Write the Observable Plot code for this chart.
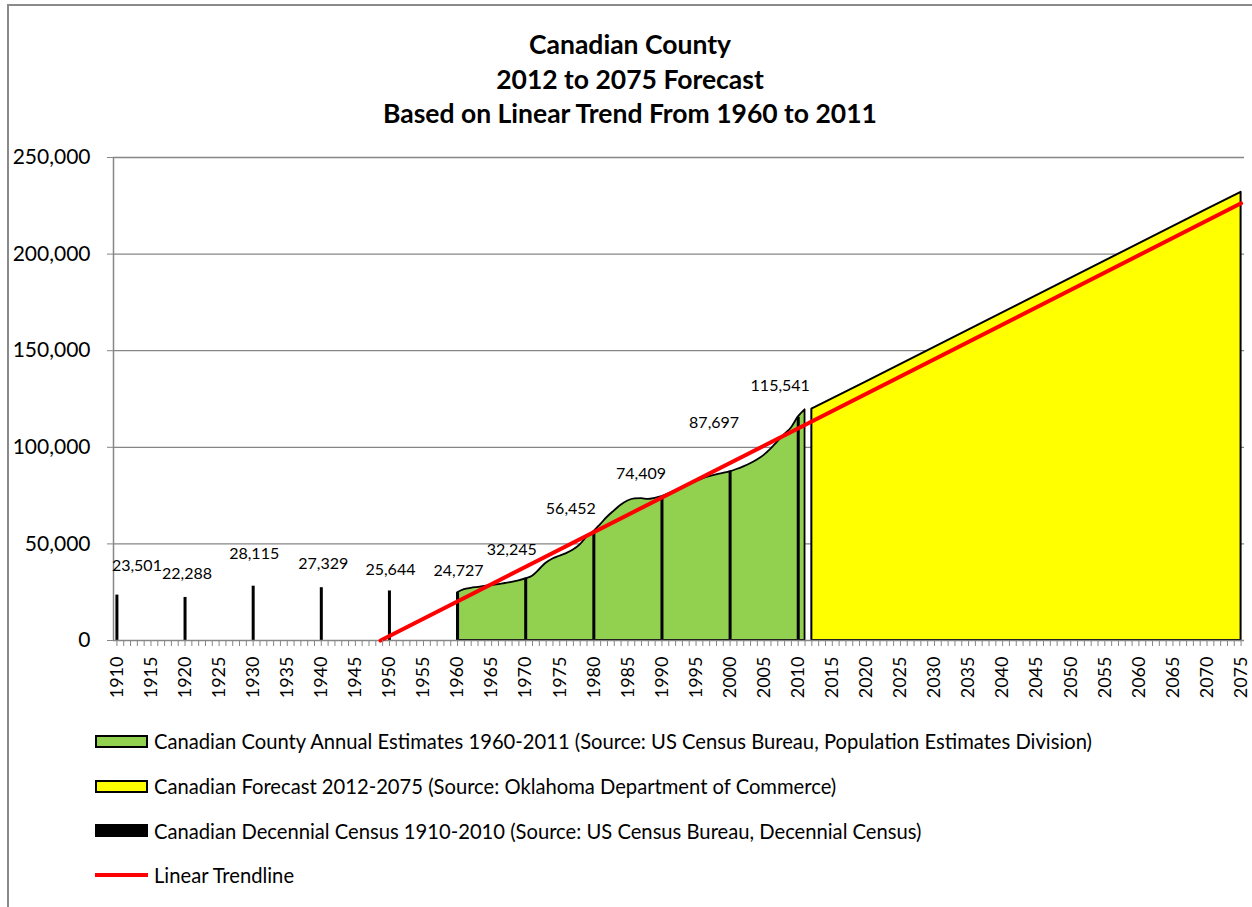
<!DOCTYPE html>
<html>
<head>
<meta charset="utf-8">
<script src="https://cdn.jsdelivr.net/npm/d3@7"></script>
<script src="https://cdn.jsdelivr.net/npm/@observablehq/plot@0.6"></script>
<style>
  html, body { margin: 0; padding: 0; background: #fff; }
  #wrap { position: relative; width: 1252px; height: 907px; overflow: hidden; font-family: Lato, "Open Sans", sans-serif; color: #000; }
  #frame { position: absolute; left: 7px; top: 4px; width: 1300px; height: 1000px; border-left: 2px solid #8a8a8a; border-top: 2px solid #8a8a8a; }
  #title { position: absolute; left: 0; top: 27px; width: 1260px; text-align: center; font-weight: bold; font-size: 26.5px; line-height: 34.5px; }
  #chart { position: absolute; left: 0; top: 130px; }
  #legend { position: absolute; left: 95px; top: 719px; font-size: 20.2px; }
  .row { display: flex; align-items: center; height: 44.7px; }
  .sw { width: 53px; height: 13px; box-sizing: border-box; margin-right: 6px; }
  .line { width: 53px; height: 4px; background: #ff0000; margin-right: 6px; }
</style>
</head>
<body>
<div id="wrap">
  <div id="frame"></div>
  <div id="title">Canadian County<br>2012 to 2075 Forecast<br>Based on Linear Trend From 1960 to 2011</div>
  <div id="chart"></div>
  <div id="legend"></div>
</div>
<script>
// ---- data ----
const censusYears = [1910, 1920, 1930, 1940, 1950, 1960, 1970, 1980, 1990, 2000, 2010];
const censusValues = [23501, 22288, 28115, 27329, 25644, 24727, 32245, 56452, 74409, 87697, 115541];

const estimateYears = [1960,1961,1962,1963,1964,1965,1966,1967,1968,1969,
  1970,1971,1972,1973,1974,1975,1976,1977,1978,1979,
  1980,1981,1982,1983,1984,1985,1986,1987,1988,1989,
  1990,1991,1992,1993,1994,1995,1996,1997,1998,1999,
  2000,2001,2002,2003,2004,2005,2006,2007,2008,2009,2010,2011];
const estimateValues = [24727,26300,27000,27500,28000,28400,28900,29500,30100,30900,
  31900,33300,36500,40000,42200,43600,45000,46800,49500,53500,
  56300,60000,63800,67000,70000,72200,73300,73400,73000,73600,
  74500,75900,77500,79200,80800,82300,83700,84800,85700,86500,
  87300,88500,89900,91500,93400,95800,99000,102800,106500,110000,115600,119400];

const forecastYears = [2012, 2020, 2030, 2040, 2050, 2060, 2070, 2075];
const forecastValues = [119800, 133900, 151700, 169600, 187400, 205300, 223100, 232000];

const trendYears = [1948.7, 2075];
const trendValues = [0, 226300];

const yTicks = [0, 50000, 100000, 150000, 200000, 250000];
const xTickYears = d3.range(1910, 2076);

// label nudges (pixels): [dx, dy from bar top]
const labelNudge = [[20,-29],[2,-24],[1,-32],[2,-24],[1,-21],[1,-22],[-14,-28],[-23,-23],[-21,-23],[-16,-48],[-18,-31]];

const legendItems = [
  {kind: "swatch", fill: "#92d050", label: "Canadian County Annual Estimates 1960-2011 (Source: US Census Bureau, Population Estimates Division)"},
  {kind: "swatch", fill: "#ffff00", label: "Canadian Forecast 2012-2075 (Source: Oklahoma Department of Commerce)"},
  {kind: "solid", fill: "#000000", label: "Canadian Decennial Census 1910-2010 (Source: US Census Bureau, Decennial Census)"},
  {kind: "line", fill: "#ff0000", label: "Linear Trendline"}
];

// ---- tables ----
const census = censusYears.map((y, i) => ({year: y, value: censusValues[i]}));
const estimates = estimateYears.map((y, i) => ({year: y, value: estimateValues[i]}));
const forecast = forecastYears.map((y, i) => ({year: y, value: forecastValues[i]}));
const trend = trendYears.map((y, i) => ({year: y, value: trendValues[i]}));

const gray = "#868686";
const fmt = d3.format(",");

const labelMarks = census.map((d, i) => Plot.text([d], {
  x: "year", y: "value", text: dd => fmt(dd.value),
  dx: labelNudge[i][0], dy: labelNudge[i][1], fontSize: 16, fill: "black"
}));

const chart = Plot.plot({
  width: 1252,
  height: 580,
  marginTop: 27,
  marginBottom: 70,
  marginLeft: 113,
  marginRight: 8,
  style: {fontFamily: "Lato, 'Open Sans', sans-serif", background: "transparent", overflow: "visible"},
  x: {domain: [1909.5, 2075.5], axis: null, label: null},
  y: {domain: [0, 250000], axis: null, label: null},
  marks: [
    Plot.ruleY(yTicks.filter(v => v > 0), {stroke: gray, strokeWidth: 1.3}),
    Plot.areaY(forecast, {x: "year", y: "value", fill: "#ffff00", stroke: "black", strokeWidth: 2}),
    Plot.areaY(estimates, {x: "year", y: "value", fill: "#92d050", stroke: "black", strokeWidth: 1.8, curve: "monotone-x"}),
    Plot.ruleX(census, {x: "year", y1: 0, y2: "value", stroke: "black", strokeWidth: 3}),
    Plot.ruleY([0], {stroke: gray, strokeWidth: 1.5}),
    Plot.ruleX([1909.5], {stroke: gray, strokeWidth: 1.5}),
    Plot.line(trend, {x: "year", y: "value", stroke: "#ff0000", strokeWidth: 4}),
    Plot.axisY(yTicks, {anchor: "left", label: null, tickSize: 6, tickPadding: 17, tickFormat: d => fmt(d), fontSize: 21, stroke: gray, fill: "black"}),
    Plot.axisX(xTickYears, {anchor: "bottom", label: null, tickSize: 6, tickPadding: 10, tickRotate: -90, fontSize: 18,
      tickFormat: d => d % 5 === 0 ? String(d) : "", stroke: gray, fill: "black"}),
    ...labelMarks
  ]
});
document.getElementById("chart").appendChild(chart);

// ---- legend ----
const lg = document.getElementById("legend");
legendItems.forEach(it => {
  const row = document.createElement("div");
  row.className = "row";
  const sw = document.createElement("div");
  if (it.kind === "line") {
    sw.className = "line";
  } else {
    sw.className = "sw";
    sw.style.background = it.fill;
    if (it.kind === "swatch") sw.style.border = "2px solid #000";
  }
  const tx = document.createElement("span");
  tx.textContent = it.label;
  row.appendChild(sw);
  row.appendChild(tx);
  lg.appendChild(row);
});
</script>
</body>
</html>
